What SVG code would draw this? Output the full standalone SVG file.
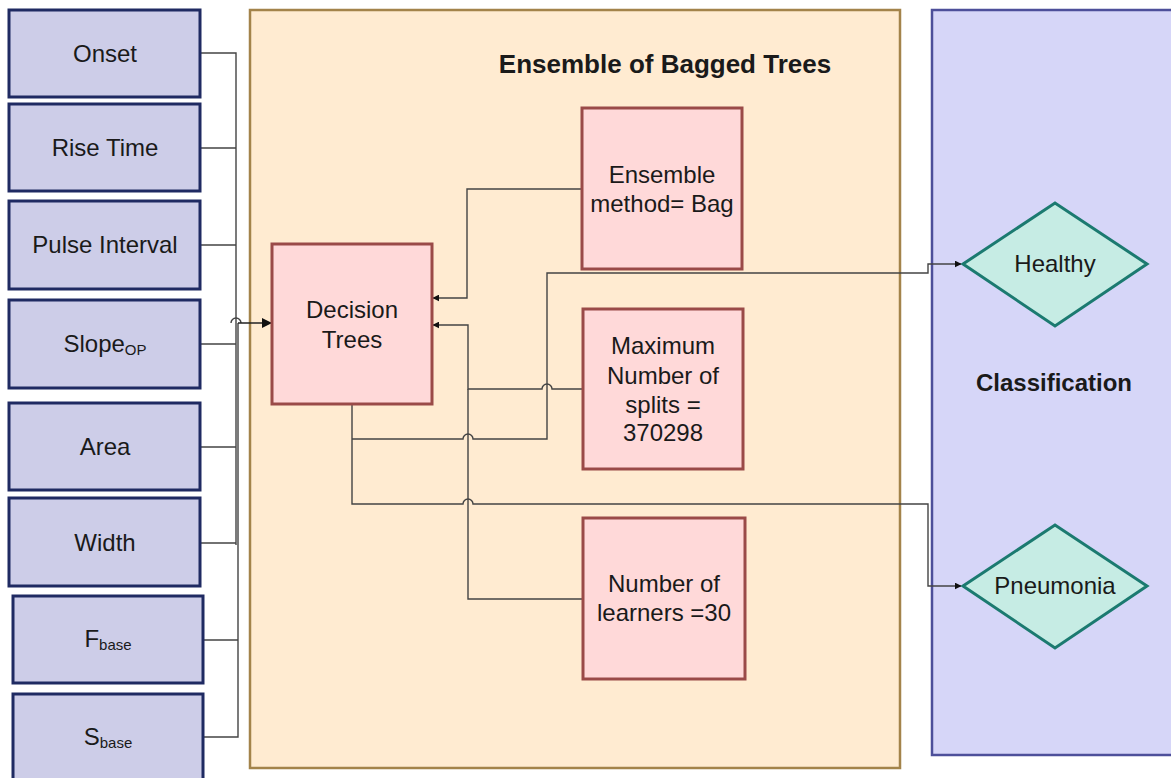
<svg xmlns="http://www.w3.org/2000/svg" width="1171" height="778" viewBox="0 0 1171 778">
<defs>
<style>
.inp{fill:#cdcde8;stroke:#1f2a62;stroke-width:3}
.pk{fill:#ffd9d9;stroke:#9a4a48;stroke-width:3}
.dm{fill:#c6ece4;stroke:#1b7a70;stroke-width:3}
.t{font-family:"Liberation Sans",Arial,sans-serif;font-size:24px;fill:#1a1a1a;text-anchor:middle}
.sub{font-size:15px}
.b{font-family:"Liberation Sans",Arial,sans-serif;font-weight:bold;fill:#1a1a1a;text-anchor:middle}
.ln{fill:none;stroke:#444;stroke-width:1.4}
.lnd{fill:none;stroke:#222;stroke-width:1.6}
</style>
<marker id="ah" viewBox="0 0 10 10" refX="9" refY="5" markerWidth="7" markerHeight="7" orient="auto" markerUnits="userSpaceOnUse"><path d="M0,0 L10,5 L0,10 z" fill="#111"/></marker>
<marker id="ahs" viewBox="0 0 10 10" refX="9" refY="5" markerWidth="10" markerHeight="10" orient="auto" markerUnits="userSpaceOnUse"><path d="M0,0 L10,5 L0,10 z" fill="#111"/></marker>
</defs>
<rect width="1171" height="778" fill="#fff"/>
<g id="ensemble">
<rect x="250" y="10" width="650" height="758" fill="#ffebd1" stroke="#a3834a" stroke-width="2.5"/>
<text class="b" x="665" y="73" font-size="26">Ensemble of Bagged Trees</text>
</g>
<g id="classification">
<rect x="932" y="10" width="245" height="745" fill="#d6d6f8" stroke="#4d4f9a" stroke-width="2.5"/>
<text class="b" x="1054" y="391" font-size="24">Classification</text>
</g>
<g id="connectors">
<path class="ln" d="M200,53 H236 V545 M200,148 H236 M200,245 H236 M200,344 H236 M200,447 H236 M200,543 H236"/>
<path class="ln" d="M203,640 H238 M203,737 H238 V323"/>
<path class="ln" d="M231,323 a5,5 0 0 1 10,0"/>
<path class="lnd" d="M238,323 H271" stroke-width="2.5" marker-end="url(#ahs)"/>
<path class="ln" d="M582,189 H467 V298 H433" marker-end="url(#ah)"/>
<path class="ln" d="M583,389 H552 a5,5 0 0 0 -10,0 H468 V325 H433" marker-end="url(#ah)"/>
<path class="ln" d="M583,599 H468 V389"/>
<path class="ln" d="M352,404 V504 H463 a5,5 0 0 1 10,0 H928 V586 H961" marker-end="url(#ah)"/>
<path class="ln" d="M352,439 H463 a5,5 0 0 1 10,0 H547 V273 H928 V264 H961" marker-end="url(#ah)"/>
</g>
<g id="onset"><rect class="inp" x="9" y="10" width="191" height="87"/><text class="t" x="105" y="62">Onset</text></g>
<g id="rise-time"><rect class="inp" x="9" y="104" width="191" height="87"/><text class="t" x="105" y="156">Rise Time</text></g>
<g id="pulse-interval"><rect class="inp" x="9" y="201" width="191" height="88"/><text class="t" x="105" y="253">Pulse Interval</text></g>
<g id="slope-op"><rect class="inp" x="9" y="300" width="191" height="88"/><text class="t" x="105" y="352">Slope<tspan class="sub" dy="3">OP</tspan></text></g>
<g id="area"><rect class="inp" x="9" y="403" width="191" height="87"/><text class="t" x="105" y="455">Area</text></g>
<g id="width"><rect class="inp" x="9" y="498" width="191" height="88"/><text class="t" x="105" y="551">Width</text></g>
<g id="f-base"><rect class="inp" x="13" y="596" width="190" height="87"/><text class="t" x="108" y="647">F<tspan class="sub" dy="3">base</tspan></text></g>
<g id="s-base"><rect class="inp" x="13" y="694" width="190" height="90"/><text class="t" x="108" y="745">S<tspan class="sub" dy="3">base</tspan></text></g>
<g id="decision-trees"><rect class="pk" x="272" y="244" width="160" height="160"/><text class="t" x="352" y="318">Decision</text><text class="t" x="352" y="348">Trees</text></g>
<g id="ensemble-method"><rect class="pk" x="582" y="108" width="160" height="161"/><text class="t" x="662" y="183">Ensemble</text><text class="t" x="662" y="212">method= Bag</text></g>
<g id="max-splits"><rect class="pk" x="583" y="309" width="160" height="160"/><text class="t" x="663" y="354">Maximum</text><text class="t" x="663" y="384">Number of</text><text class="t" x="663" y="413">splits =</text><text class="t" x="663" y="441">370298</text></g>
<g id="num-learners"><rect class="pk" x="583" y="518" width="162" height="161"/><text class="t" x="664" y="592">Number of</text><text class="t" x="664" y="621">learners =30</text></g>
<g id="healthy"><polygon class="dm" points="963,264 1055,203 1147,264 1055,326"/><text class="t" x="1055" y="272">Healthy</text></g>
<g id="pneumonia"><polygon class="dm" points="963,586 1055,525 1147,586 1055,648"/><text class="t" x="1055" y="594">Pneumonia</text></g>
</svg>
